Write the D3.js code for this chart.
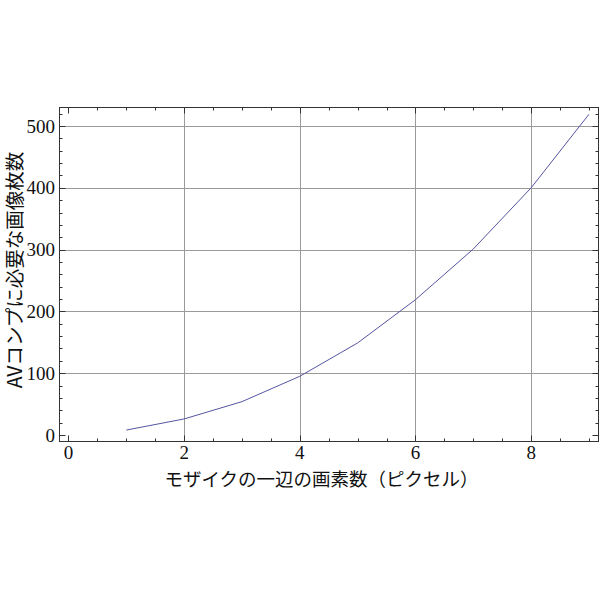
<!DOCTYPE html>
<html><head><meta charset="utf-8">
<script src="https://cdn.jsdelivr.net/npm/d3@7"></script>
<style>html,body{margin:0;padding:0;background:#fff;}</style>
</head><body>
<svg id="c" width="600" height="600"></svg>
<script>
const pixelsPerSide = [1, 2, 3, 4, 5, 6, 7, 8, 9];
const imagesNeeded = [8, 26, 54, 95, 149, 219, 301, 400, 519];
const xTickValues = [0, 2, 4, 6, 8];
const yTickValues = [0, 100, 200, 300, 400, 500];
const xGridValues = [2, 4, 6, 8];
const yGridValues = [100, 200, 300, 400, 500];
const xLabel = "モザイクの一辺の画素数（ピクセル）";
const yLabel = "AVコンプに必要な画像枚数";

const svg = d3.select("#c");
const L = 59.5, R = 598.5, T = 107.5, B = 441.5;
const x = d3.scaleLinear().domain([-0.155, 9.165]).range([L, R]);
const y = d3.scaleLinear().domain([-10.5, 530]).range([B, T]);

const grid = svg.append("g").attr("stroke", "#9a9a9a").attr("stroke-width", 1);
grid.selectAll(".gx").data(xGridValues).join("line")
  .attr("x1", d => Math.round(x(d)) + 0.5).attr("x2", d => Math.round(x(d)) + 0.5)
  .attr("y1", T).attr("y2", B);
grid.selectAll(".gy").data(yGridValues).join("line")
  .attr("y1", d => Math.round(y(d)) + 0.5).attr("y2", d => Math.round(y(d)) + 0.5)
  .attr("x1", L).attr("x2", R);

// line
const line = d3.line().x((d, i) => x(pixelsPerSide[i])).y(d => y(d));
svg.append("path").datum(imagesNeeded).attr("d", line)
  .attr("fill", "none").attr("stroke", "#5555a2").attr("stroke-width", 1);

// frame
svg.append("rect").attr("x", L).attr("y", T).attr("width", R - L).attr("height", B - T)
  .attr("fill", "none").attr("stroke", "#333").attr("stroke-width", 1);

// ticks
const xMinor = d3.range(0, 9.01, 0.5).filter(v => !xTickValues.includes(v));
const yMinor = d3.range(0, 521, 20).filter(v => !yTickValues.includes(v));
const tk = svg.append("g").attr("stroke", "#333").attr("stroke-width", 1);
function xt(vals, len) {
  vals.forEach(v => {
    const px = Math.round(x(v)) + 0.5;
    tk.append("line").attr("x1", px).attr("x2", px).attr("y1", B).attr("y2", B - len);
    tk.append("line").attr("x1", px).attr("x2", px).attr("y1", T).attr("y2", T + len);
  });
}
function yt(vals, len) {
  vals.forEach(v => {
    const py = Math.round(y(v)) + 0.5;
    tk.append("line").attr("y1", py).attr("y2", py).attr("x1", L).attr("x2", L + len);
    tk.append("line").attr("y1", py).attr("y2", py).attr("x1", R).attr("x2", R - len);
  });
}
xt(xTickValues, 6); xt(xMinor, 3);
yt(yTickValues, 6); yt(yMinor, 3);

// tick labels
const tf = "'Liberation Serif','DejaVu Serif',serif";
svg.append("g").selectAll("text").data(xTickValues).join("text")
  .attr("x", d => x(d)).attr("y", 459).attr("text-anchor", "middle")
  .attr("font-family", tf).attr("font-size", 19).attr("fill", "#111").text(d => d);
svg.append("g").selectAll("text").data(yTickValues).join("text")
  .attr("x", 55).attr("y", d => y(d) + 6.5).attr("text-anchor", "end")
  .attr("font-family", tf).attr("font-size", 19).attr("fill", "#111").text(d => d);

// axis labels
const jf = "'Noto Sans CJK JP','Noto Sans CJK SC',sans-serif";
svg.append("text").attr("x", 321.5).attr("y", 486).attr("text-anchor", "middle")
  .attr("font-family", jf).attr("font-size", 18.5).attr("fill", "#111").text(xLabel);
svg.append("text").attr("transform", "translate(22,270) rotate(-90)").attr("text-anchor", "middle")
  .attr("font-family", jf).attr("font-size", 19.5).attr("fill", "#111").text(yLabel);
</script>
</body></html>
